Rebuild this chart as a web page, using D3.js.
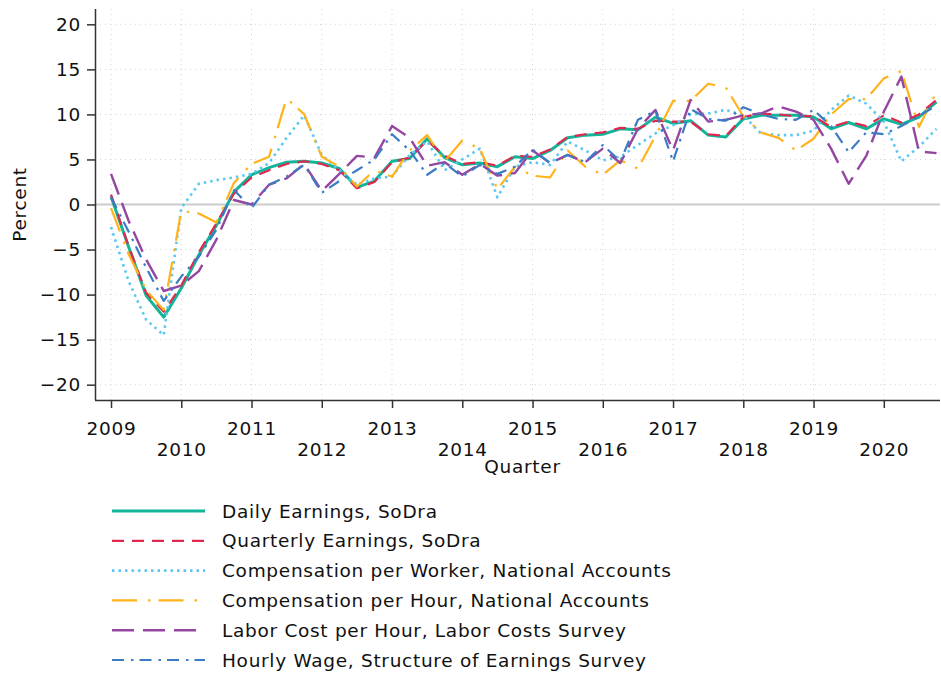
<!DOCTYPE html>
<html>
<head>
<meta charset="utf-8">
<script src="https://cdn.jsdelivr.net/npm/d3@7"></script>
<style>
  body { margin: 0; background: #fff; }
  svg { display: block; font-family: "DejaVu Sans", Verdana, sans-serif; }
  svg text { letter-spacing: 0.7px; }
</style>
</head>
<body>
<svg width="941" height="673"></svg>
<script>

// quarters 2009q1 .. 2020q4, as decimal years
var quarters = [
  2009.00, 2009.25, 2009.50, 2009.75, 2010.00, 2010.25, 2010.50, 2010.75,
  2011.00, 2011.25, 2011.50, 2011.75, 2012.00, 2012.25, 2012.50, 2012.75,
  2013.00, 2013.25, 2013.50, 2013.75, 2014.00, 2014.25, 2014.50, 2014.75,
  2015.00, 2015.25, 2015.50, 2015.75, 2016.00, 2016.25, 2016.50, 2016.75,
  2017.00, 2017.25, 2017.50, 2017.75, 2018.00, 2018.25, 2018.50, 2018.75,
  2019.00, 2019.25, 2019.50, 2019.75, 2020.00, 2020.25, 2020.50, 2020.75
];

var dailyEarnings = [0.9, -4.7, -10.1, -12.5, -9.3, -5.6, -2.3, 1.4, 3.3, 4.1, 4.7, 4.8,
  4.6, 4.0, 1.9, 2.6, 4.8, 5.1, 7.3, 5.2, 4.4, 4.6, 4.2, 5.3,
  5.1, 6.0, 7.4, 7.7, 7.8, 8.4, 8.3, 9.7, 9.0, 9.3, 7.7, 7.5,
  9.5, 9.9, 9.9, 9.9, 9.7, 8.4, 9.1, 8.4, 9.5, 8.9, 9.7, 11.4];

var quarterlyEarnings = [1.1, -4.6, -9.8, -11.9, -9.0, -5.3, -2.1, 1.2, 3.0, 3.8, 4.5, 4.8,
  4.5, 3.8, 1.8, 2.5, 4.7, 5.2, 7.1, 5.4, 4.5, 4.7, 4.3, 5.4,
  5.3, 6.1, 7.5, 7.8, 8.0, 8.5, 8.4, 9.3, 9.2, 9.2, 7.8, 7.6,
  9.7, 10.1, 10.0, 9.8, 9.8, 8.6, 9.2, 8.7, 9.9, 9.1, 10.0, 11.6];

var compPerWorker = [-2.5, -8.5, -12.8, -14.5, -0.4, 2.3, 2.7, 3.0, 3.4, 4.6, 7.4, 9.9,
  5.5, 3.8, 2.2, 2.9, 3.1, 5.5, 7.0, 3.8, 5.0, 6.2, 0.8, 4.2,
  4.7, 4.4, 7.0, 6.0, 4.9, 5.3, 6.6, 7.9, 8.8, 10.0, 10.1, 10.5,
  9.9, 7.9, 7.7, 7.7, 8.2, 10.5, 12.1, 11.2, 9.2, 4.8, 6.4, 8.4];

var compPerHour = [-0.4, -5.5, -9.5, -11.7, -0.7, -1.0, -2.0, 2.4, 4.5, 5.3, 11.8, 10.0,
  5.3, 4.2, 2.0, 3.8, 3.1, 6.0, 7.7, 4.8, 7.1, 6.2, 1.7, 4.2,
  3.2, 3.0, 6.0, 4.2, 3.3, 4.9, 4.0, 7.6, 11.5, 11.5, 13.4, 13.0,
  9.8, 8.0, 7.4, 6.0, 7.3, 10.0, 11.7, 11.7, 14.0, 14.8, 8.6, 12.5];

var laborCostPerHour = [3.4, -1.8, -6.1, -9.6, -9.0, -7.4, -3.9, 0.5, 0.0, 2.2, 2.9, 4.5,
  1.5, 3.4, 5.4, 5.2, 8.7, 7.4, 4.3, 4.7, 3.3, 4.5, 3.2, 3.5,
  6.0, 4.6, 5.5, 4.7, 6.2, 4.6, 8.4, 10.5, 6.0, 11.6, 9.2, 9.4,
  9.9, 10.1, 10.9, 10.3, 9.4, 6.2, 2.3, 5.4, 10.3, 14.2, 5.9, 5.7];

var hourlyWage = [0.8, -3.0, -7.0, -10.7, -8.0, -5.8, -2.8, 1.6, -0.4, 2.2, 3.1, 4.4,
  1.3, 2.6, 3.8, 5.0, 7.8, 6.0, 3.3, 4.6, 3.1, 4.4, 3.4, 4.2,
  6.1, 4.6, 5.5, 4.7, 6.6, 4.8, 9.4, 10.4, 4.8, 10.6, 9.5, 9.3,
  10.8, 10.0, 9.5, 9.4, 10.5, 8.7, 5.8, 8.0, 7.8, 8.7, 9.8, 11.0];

var seriesNames = [
  'Daily Earnings, SoDra',
  'Quarterly Earnings, SoDra',
  'Compensation per Worker, National Accounts',
  'Compensation per Hour, National Accounts',
  'Labor Cost per Hour, Labor Costs Survey',
  'Hourly Wage, Structure of Earnings Survey'
];

var yearTicks = [2009, 2010, 2011, 2012, 2013, 2014, 2015, 2016, 2017, 2018, 2019, 2020];
var percentTicks = [-20, -15, -10, -5, 0, 5, 10, 15, 20];

// look of each series
var styles = [
  { color: '#12b59a', width: 3,   dash: null },
  { color: '#e0284f', width: 2.2, dash: '12,8' },
  { color: '#5cc8f2', width: 2.6, dash: '2.5,4' },
  { color: '#ffb31a', width: 2.2, dash: '25,11,2.5,8' },
  { color: '#9446a0', width: 2.4, dash: '22,9' },
  { color: '#3b7cc4', width: 2.2, dash: '12,7,2.5,6' }
];

var seriesValues = [dailyEarnings, quarterlyEarnings, compPerWorker, compPerHour, laborCostPerHour, hourlyWage];

var series = seriesNames.map(function(name, i){
  return {
    name: name,
    style: styles[i],
    points: quarters.map(function(q, j){ return { t: q, v: seriesValues[i][j] }; })
  };
});

var svg = d3.select('svg');

var plotLeft = 95, plotRight = 940, plotTop = 9, plotBottom = 400;
var fontSize = 18.5;

var x = d3.scaleLinear().domain([2008.772, 2020.80]).range([plotLeft, plotRight]);
var y = d3.scaleLinear().domain([-21.7, 21.7]).range([plotBottom, plotTop]);

// grid
var grid = svg.append('g');
grid.selectAll('line.h')
  .data(percentTicks.filter(function(d){ return d !== 0; }))
  .enter().append('line')
  .attr('x1', plotLeft).attr('x2', plotRight)
  .attr('y1', function(d){ return y(d); })
  .attr('y2', function(d){ return y(d); })
  .attr('stroke', '#d4d4d4')
  .attr('stroke-width', 1)
  .attr('stroke-dasharray', '1,4');

grid.selectAll('line.v')
  .data(yearTicks)
  .enter().append('line')
  .attr('x1', function(d){ return x(d); })
  .attr('x2', function(d){ return x(d); })
  .attr('y1', plotTop).attr('y2', plotBottom)
  .attr('stroke', '#d4d4d4')
  .attr('stroke-width', 1)
  .attr('stroke-dasharray', '1,4');

// zero line
svg.append('line')
  .attr('x1', plotLeft).attr('x2', plotRight)
  .attr('y1', y(0)).attr('y2', y(0))
  .attr('stroke', '#cccccc')
  .attr('stroke-width', 2);

// y axis
var yAxis = svg.append('g')
  .attr('transform', 'translate(' + plotLeft + ',0)')
  .call(d3.axisLeft(y).tickValues(percentTicks).tickSize(8).tickPadding(6));
yAxis.select('.domain').attr('d', 'M0.5,' + plotTop + 'V' + plotBottom).attr('stroke', '#333').attr('stroke-width', 1.5);
yAxis.selectAll('.tick line').attr('stroke', '#333').attr('stroke-width', 1.5);
yAxis.selectAll('.tick text')
  .attr('font-size', fontSize)
  .attr('fill', '#111')
  .attr('font-family', '"DejaVu Sans", Verdana, sans-serif');

// x axis
var xAxis = svg.append('g')
  .attr('transform', 'translate(0,' + plotBottom + ')')
  .call(d3.axisBottom(x).tickValues(yearTicks).tickFormat(d3.format('d')).tickSize(8));
xAxis.select('.domain').attr('d', 'M' + plotLeft + ',0.5H' + plotRight).attr('stroke', '#333').attr('stroke-width', 1.5);
xAxis.selectAll('.tick line').attr('stroke', '#333').attr('stroke-width', 1.5);
xAxis.selectAll('.tick text')
  .attr('font-size', fontSize)
  .attr('fill', '#111')
  .attr('font-family', '"DejaVu Sans", Verdana, sans-serif')
  .attr('dy', null)
  .attr('y', function(d, i){ return i % 2 === 0 ? 35 : 56; });

// axis titles
svg.append('text')
  .attr('x', (plotLeft + plotRight) / 2 + 5)
  .attr('y', 473)
  .attr('text-anchor', 'middle')
  .attr('font-size', fontSize)
  .attr('fill', '#111')
  .text('Quarter');

svg.append('text')
  .attr('transform', 'translate(26,' + ((plotTop + plotBottom) / 2) + ') rotate(-90)')
  .attr('text-anchor', 'middle')
  .attr('font-size', fontSize)
  .attr('fill', '#111')
  .text('Percent');

// lines
var line = d3.line()
  .x(function(d){ return x(d.t); })
  .y(function(d){ return y(d.v); });

svg.append('g').selectAll('path')
  .data(series)
  .enter().append('path')
  .attr('d', function(d){ return line(d.points); })
  .attr('fill', 'none')
  .attr('stroke', function(d){ return d.style.color; })
  .attr('stroke-width', function(d){ return d.style.width; })
  .attr('stroke-dasharray', function(d){ return d.style.dash; })
  .attr('stroke-linejoin', 'round');

// legend
var legend = svg.append('g').selectAll('g')
  .data(series)
  .enter().append('g')
  .attr('transform', function(d, i){ return 'translate(112,' + (511 + i * 29.8) + ')'; });

legend.append('line')
  .attr('x1', 0).attr('x2', 93)
  .attr('y1', 0).attr('y2', 0)
  .attr('stroke', function(d){ return d.style.color; })
  .attr('stroke-width', function(d){ return d.style.width; })
  .attr('stroke-dasharray', function(d){ return d.style.dash; });

legend.append('text')
  .attr('x', 110)
  .attr('y', 6.5)
  .attr('font-size', fontSize)
  .attr('fill', '#111')
  .text(function(d){ return d.name; });

</script>
</body>
</html>
